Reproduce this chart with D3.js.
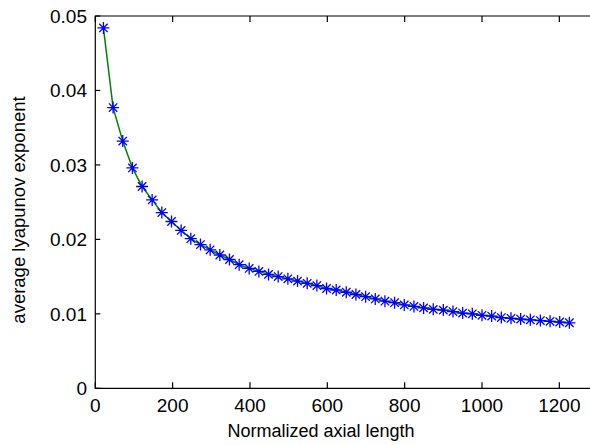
<!DOCTYPE html>
<html><head><meta charset="utf-8">
<script src="https://cdn.jsdelivr.net/npm/d3@7"></script>
<style>
html,body{margin:0;padding:0;background:#fff;overflow:hidden;}
svg{display:block;}
text{font-family:"Liberation Sans",Arial,sans-serif;fill:#000;}
</style></head>
<body>
<svg id="chart" width="590" height="445"></svg>
<script>
const xValues = [21,46,71,96,121,147,172,197,222,247,272,297,322,347,372,398,423,448,473,498,523,548,573,598,623,649,674,699,724,749,774,799,824,849,874,900,925,950,975,1000,1025,1050,1075,1100,1125,1151,1176,1201,1226];
const yValues = [0.0484,0.0377,0.0332,0.0296,0.0271,0.0253,0.0236,0.0224,0.0212,0.0201,0.0193,0.0186,0.0179,0.0173,0.0166,0.0161,0.0157,0.0153,0.0150,0.0147,0.0144,0.0141,0.0138,0.0134,0.0132,0.0129,0.0126,0.0123,0.0120,0.0117,0.0115,0.0112,0.0110,0.0108,0.0106,0.0105,0.0103,0.0101,0.0100,0.0098,0.0097,0.0095,0.0094,0.0093,0.0092,0.0091,0.0090,0.0089,0.0088];
const xTicks = [0,200,400,600,800,1000,1200];
const yTicks = [0,0.01,0.02,0.03,0.04,0.05];
const yTickLabels = ["0","0.01","0.02","0.03","0.04","0.05"];
const xLabel = "Normalized axial length";
const yLabel = "average lyapunov exponent";

const svg = d3.select("#chart");
const L = 95.3, T = 16, B = 388.3, R = 598;
const x = d3.scaleLinear().domain([0,1300]).range([L,R]);
const y = d3.scaleLinear().domain([0,0.05]).range([B,T]);

// axes box (left, bottom, top; right off-screen)
const axG = svg.append("g").attr("stroke","#000").attr("stroke-width",1.2).attr("fill","none");
axG.append("path").attr("d",`M${R},${T}H${L}V${B}H${R}`);
// ticks
xTicks.forEach(t=>{
  axG.append("line").attr("x1",x(t)).attr("x2",x(t)).attr("y1",B).attr("y2",B-6);
  axG.append("line").attr("x1",x(t)).attr("x2",x(t)).attr("y1",T).attr("y2",T+6);
});
yTicks.forEach(t=>{
  axG.append("line").attr("x1",L).attr("x2",L+5).attr("y1",y(t)).attr("y2",y(t));
});
// tick labels
svg.append("g").selectAll("text").data(xTicks).join("text")
  .attr("x",d=>x(d)).attr("y",412).attr("text-anchor","middle").attr("font-size",19)
  .text(d=>d);
svg.append("g").selectAll("text").data(yTicks).join("text")
  .attr("x",87).attr("y",d=>y(d)+7).attr("text-anchor","end").attr("font-size",19)
  .text((d,i)=>yTickLabels[i]);
// axis labels
svg.append("text").attr("x",321).attr("y",437).attr("text-anchor","middle").attr("font-size",18).text(xLabel);
svg.append("text").attr("transform",`translate(25,210) rotate(-90)`).attr("text-anchor","middle").attr("font-size",18.5).text(yLabel);

const data = xValues.map((v,i)=>({x:v,y:yValues[i]}));
// line
svg.append("path").datum(data)
  .attr("d", d3.line().x(d=>x(d.x)).y(d=>y(d.y)))
  .attr("fill","none").attr("stroke","#008000").attr("stroke-width",1.5);
// star markers
const r = 6, rd = 4.2;
const mg = svg.append("g").attr("stroke","#0000ff").attr("stroke-width",1.3).attr("fill","none");
mg.selectAll("path").data(data).join("path")
  .attr("d", d=>{
    const cx = x(d.x), cy = y(d.y);
    return `M${cx-r},${cy}H${cx+r}M${cx},${cy-r}V${cy+r}M${cx-rd},${cy-rd}L${cx+rd},${cy+rd}M${cx-rd},${cy+rd}L${cx+rd},${cy-rd}`;
  });
</script>
</body></html>
